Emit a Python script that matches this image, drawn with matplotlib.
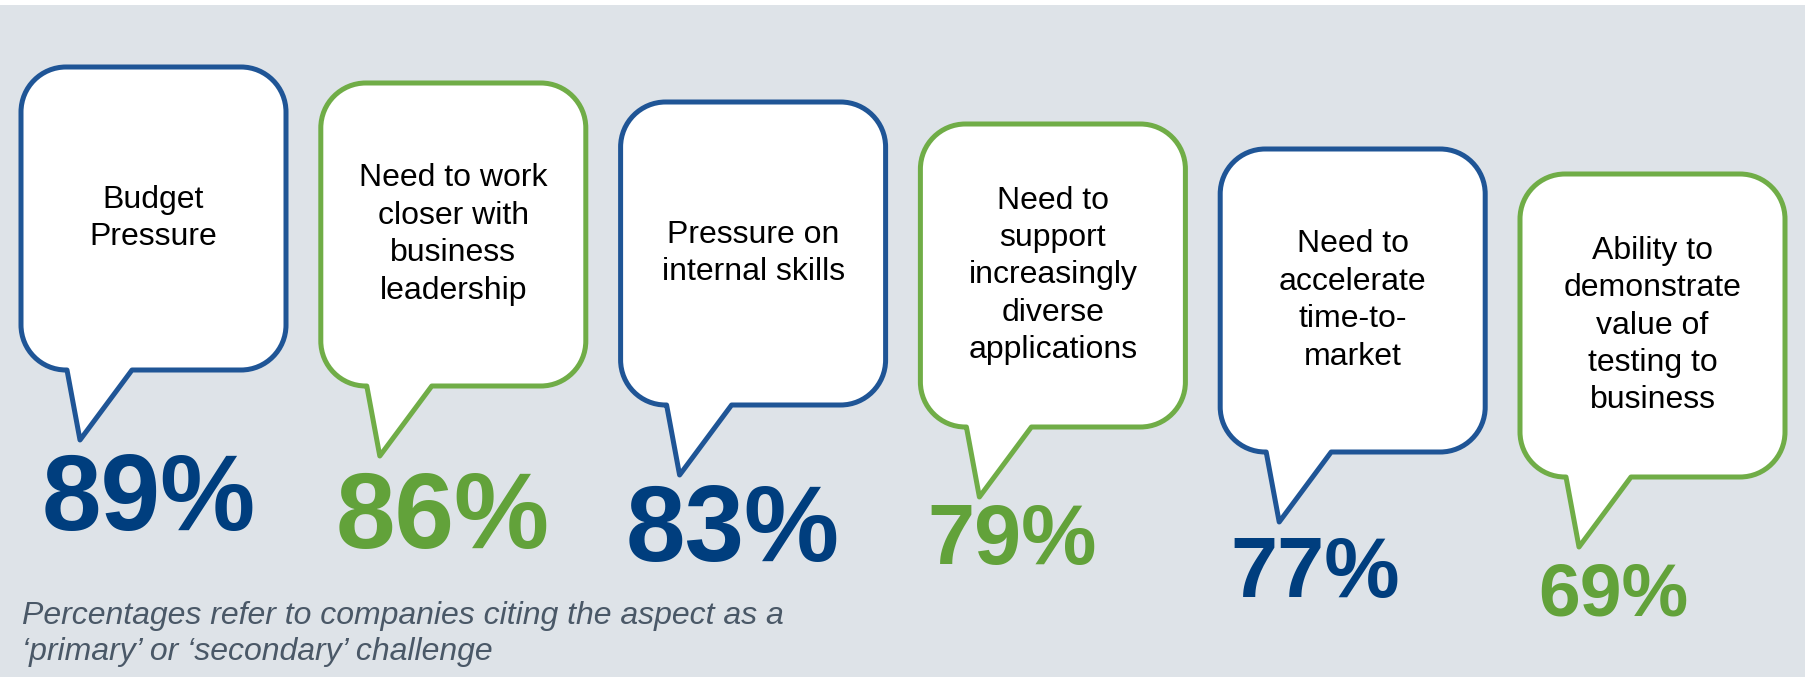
import matplotlib.pyplot as plt
from matplotlib.path import Path
from matplotlib.patches import PathPatch, Rectangle

# Challenges and share of companies citing them
challenges = ['Budget\nPressure',
              'Need to work\ncloser with\nbusiness\nleadership',
              'Pressure on\ninternal skills',
              'Need to\nsupport\nincreasingly\ndiverse\napplications',
              'Need to\naccelerate\ntime-to-\nmarket',
              'Ability to\ndemonstrate\nvalue of\ntesting to\nbusiness']
percent = [89, 86, 83, 79, 77, 69]
note = "Percentages refer to companies citing the aspect as a\n\u2018primary\u2019 or \u2018secondary\u2019 challenge"

# styling / layout (pixel units)
blue_line = '#1f5596'
blue_text = '#003e7e'
green_line = '#70ad47'
green_text = '#62a23a'
bg = '#dee3e8'
line_cols = [blue_line, green_line] * 3
text_cols = [blue_text, green_text] * 3
pct_sizes = [77, 77, 77, 61, 61, 54]
box_drop = [0, 16, 35, 57, 82, 107]      # stair-step of the bubbles
pct_dx = [21, 15, 5, 7, 10, 18]          # label offset from bubble left
pct_dy = [90, 92, 86, 67, 75, 69]        # label baseline below tail tip

W, H, r = 265, 303, 45
x0, step, y0 = 21, 299.8, 67

plt.rcParams['font.family'] = ['Liberation Sans', 'DejaVu Sans']

fig = plt.figure(figsize=(18.06, 6.77), dpi=100)
ax = fig.add_axes([0, 0, 1, 1])
ax.set_xlim(0, 1806)
ax.set_ylim(677, 0)
ax.axis('off')

ax.add_patch(Rectangle((0, 5), 1806, 672, facecolor=bg, edgecolor='none', zorder=0))


def bubble(L, T):
    R, B = L + W, T + H
    k = 0.5523 * r
    verts = [(L + r, T), (R - r, T),
             (R - r + k, T), (R, T + r - k), (R, T + r),
             (R, B - r),
             (R, B - r + k), (R - r + k, B), (R - r, B),
             (L + 111, B), (L + 59, B + 70), (L + 46, B),
             (L + r, B),
             (L + r - k, B), (L, B - r + k), (L, B - r),
             (L, T + r),
             (L, T + r - k), (L + r - k, T), (L + r, T),
             (L + r, T)]
    codes = [Path.MOVETO, Path.LINETO,
             Path.CURVE4, Path.CURVE4, Path.CURVE4,
             Path.LINETO,
             Path.CURVE4, Path.CURVE4, Path.CURVE4,
             Path.LINETO, Path.LINETO, Path.LINETO,
             Path.LINETO,
             Path.CURVE4, Path.CURVE4, Path.CURVE4,
             Path.LINETO,
             Path.CURVE4, Path.CURVE4, Path.CURVE4,
             Path.CLOSEPOLY]
    return Path(verts, codes)


for i, (label, val) in enumerate(zip(challenges, percent)):
    L = x0 + step * i
    T = y0 + box_drop[i]
    ax.add_patch(PathPatch(bubble(L, T), facecolor='white', edgecolor=line_cols[i],
                           lw=3.6, joinstyle='round', zorder=2))
    ax.text(L + W / 2, T + H / 2, label, ha='center', va='center', fontsize=23,
            color='black', linespacing=1.32, zorder=3)
    ax.text(L + pct_dx[i], T + H + 70 + pct_dy[i], f'{val}%', ha='left', va='baseline',
            fontsize=pct_sizes[i], fontweight='bold', color=text_cols[i], zorder=3)

# footnote (baseline of the last line)
ax.text(22, 660, note, ha='left', va='baseline', fontsize=23, style='italic',
        color='#4a5867', linespacing=1.25)

fig.savefig('out.png', dpi=100, facecolor='white')
